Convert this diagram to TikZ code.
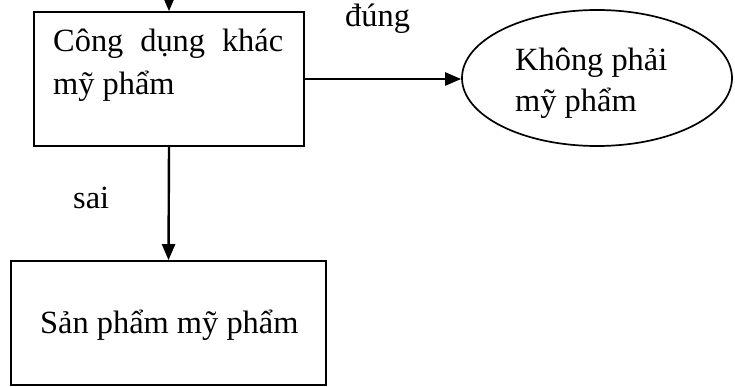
\documentclass[tikz,border=0pt]{standalone}
\usepackage{fontspec}
\setmainfont{Liberation Serif}
\usetikzlibrary{arrows.meta,shapes.geometric}
\begin{document}
\begin{tikzpicture}[x=1pt,y=-1pt,
  boxnode/.style={draw,line width=1.7pt,inner sep=0pt},
  ellnode/.style={draw,ellipse,line width=1.7pt,inner sep=0pt},
  txt/.style={anchor=base west,inner sep=0pt,font=\fontsize{32.4}{40}\selectfont},
  arr/.style={line width=2.4pt,-{Triangle[length=16pt,width=13pt]}}]
\useasboundingbox (0,0) rectangle (735,387);
\fill[white] (0,0) rectangle (735,387);
% boxes
\node[boxnode,minimum width=270pt,minimum height=134pt] (top) at (169,79) {};
\node[ellnode,minimum width=270pt,minimum height=136pt] (ell) at (597,78) {};
\node[boxnode,minimum width=315pt,minimum height=124pt] (bot) at (168.5,323) {};
\coordinate (in) at (169,-10);
% texts
\node[txt] (t1) at (53,52) {\hbox to 230pt{Công\hfill dụng\hfill khác}};
\node[txt] (t2) at (53,95) {mỹ phẩm};
\node[txt] (e1) at (515,71) {Không phải};
\node[txt] (e2) at (515,112) {mỹ phẩm};
\node[txt] (b1) at (40,333) {Sản phẩm mỹ phẩm};
\node[txt] (ldung) at (345,27) {đúng};
\node[txt] (lsai) at (73,209) {sai};
% connectors
\draw[arr] (in) -- (top.north);
\draw[arr] (top.east) -- (top.east -| ell.west);
\draw[arr] (top.south) -- (bot.north);
\end{tikzpicture}
\end{document}
